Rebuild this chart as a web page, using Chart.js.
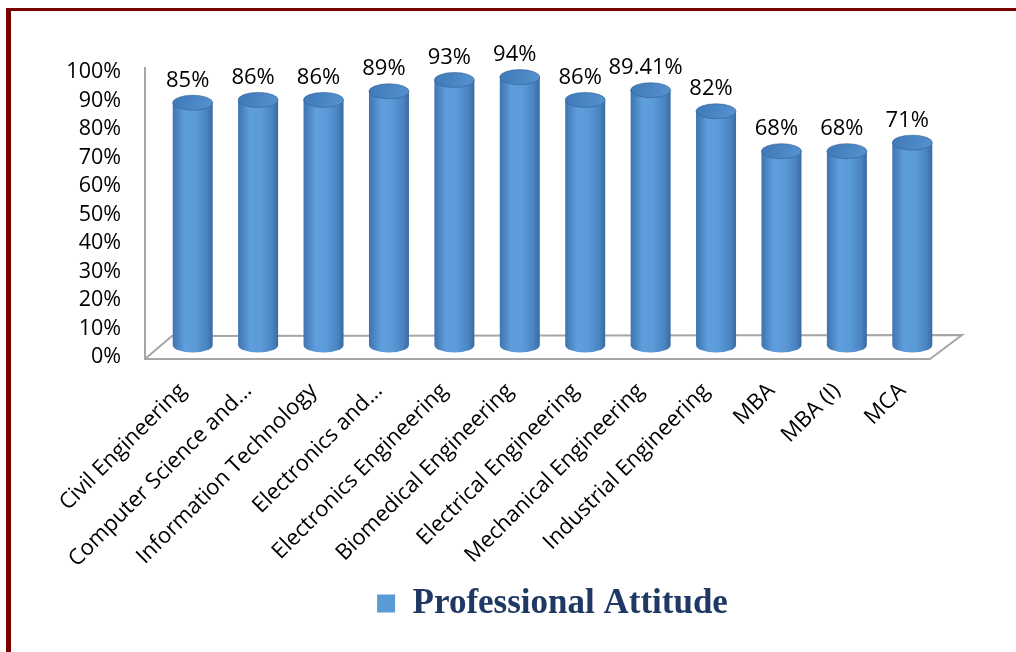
<!DOCTYPE html>
<html>
<head>
<meta charset="utf-8">
<script src="https://cdn.jsdelivr.net/npm/chart.js@4.4.1/dist/chart.umd.min.js"></script>
<style>
  html, body { margin: 0; padding: 0; background: #ffffff; }
  #wrap { position: relative; width: 1016px; height: 652px; overflow: hidden; }
  #frame { position: absolute; left: 6px; top: 8px; right: -10px; bottom: -10px;
           border-left: 5px solid #780000; border-top: 3px solid #780000; pointer-events: none; }
  canvas { position: absolute; left: 0; top: 0; }
</style>
</head>
<body>
<div id="wrap">
  <canvas id="c" width="1016" height="652"></canvas>
  <div id="frame"></div>
</div>
<script>
const categories = [
  "Civil Engineering",
  "Computer Science and...",
  "Information Technology",
  "Electronics and...",
  "Electronics Engineering",
  "Biomedical Engineering",
  "Electrical Engineering",
  "Mechanical Engineering",
  "Industrial Engineering",
  "MBA",
  "MBA (I)",
  "MCA"
];
const seriesName = "Professional Attitude";
const values = [85, 86, 86, 89, 93, 94, 86, 89.41, 82, 68, 68, 71];
const yTicks = [0, 10, 20, 30, 40, 50, 60, 70, 80, 90, 100];

const FONT = "'Open Sans', 'DejaVu Sans', sans-serif";
const GREY = '#a6a6a6';

const cylinderPlugin = {
  id: 'cylinders',
  beforeDatasetsDraw(chart) {
    const { ctx, chartArea, scales } = chart;
    const y0 = scales.y.getPixelForValue(0);
    const y100 = scales.y.getPixelForValue(100);
    const L = chartArea.left, R = chartArea.right;
    ctx.save();
    ctx.strokeStyle = GREY;
    ctx.lineWidth = 2;
    ctx.beginPath();
    ctx.moveTo(L - 15, y100 + 7);
    ctx.lineTo(L - 15, y0 + 14);
    ctx.lineTo(R - 15, y0 + 14);
    ctx.lineTo(R + 17, y0 - 10);
    ctx.lineTo(L + 12, y0 - 9);
    ctx.lineTo(L - 15, y0 + 14);
    ctx.stroke();
    ctx.restore();
  },
  afterDatasetsDraw(chart) {
    const { ctx } = chart;
    const meta = chart.getDatasetMeta(0);
    const ds = chart.data.datasets[0];
    meta.data.forEach((el, i) => {
      const x = el.x, top = el.y, base = el.base;
      const rx = el.width / 2, ry = 7.5;
      ctx.save();
      const g = ctx.createLinearGradient(x - rx, 0, x + rx, 0);
      g.addColorStop(0, '#3e74b0');
      g.addColorStop(0.3, '#5f9edc');
      g.addColorStop(0.55, '#5c9bd9');
      g.addColorStop(0.85, '#4a84c2');
      g.addColorStop(1, '#3a6aa0');
      ctx.fillStyle = g;
      ctx.beginPath();
      ctx.moveTo(x - rx, top);
      ctx.lineTo(x - rx, base);
      ctx.ellipse(x, base, rx, ry, 0, Math.PI, 0, true);
      ctx.lineTo(x + rx, top);
      ctx.closePath();
      ctx.fill();
      const g2 = ctx.createLinearGradient(x - rx, top - ry, x + rx, top + ry);
      g2.addColorStop(0, '#3f78b6');
      g2.addColorStop(0.6, '#4c88c6');
      g2.addColorStop(1, '#5893cf');
      ctx.fillStyle = g2;
      ctx.beginPath();
      ctx.ellipse(x, top, rx, ry, 0, 0, Math.PI * 2);
      ctx.fill();
      ctx.strokeStyle = 'rgba(50,95,150,0.6)';
      ctx.lineWidth = 1;
      ctx.stroke();
      ctx.fillStyle = '#000';
      ctx.font = "22px " + FONT;
      ctx.textAlign = 'center';
      ctx.textBaseline = 'alphabetic';
      ctx.fillText(ds.data[i] + '%', x - 5, top - 16);
      ctx.restore();
    });
  }
};

new Chart(document.getElementById('c'), {
  type: 'bar',
  data: {
    labels: categories,
    datasets: [{
      label: seriesName,
      data: values,
      backgroundColor: 'rgba(0,0,0,0)',
      borderWidth: 0,
      barThickness: 40
    }]
  },
  options: {
    responsive: false,
    animation: false,
    events: [],
    layout: { padding: { top: 60, right: 71, left: 0, bottom: 21 } },
    scales: {
      x: {
        grid: { display: false },
        border: { display: false },
        ticks: {
          color: '#000',
          font: { family: FONT, size: 22 },
          maxRotation: 45, minRotation: 45,
          padding: 25,
          labelOffset: -10,
          autoSkip: false
        },
        afterFit(scale) { scale.height = 231; }
      },
      y: {
        min: 0, max: 100,
        afterBuildTicks(scale) { scale.ticks = yTicks.map(v => ({ value: v })); },
        grid: { display: false, drawTicks: false },
        border: { display: false },
        ticks: {
          color: '#000',
          font: { family: FONT, size: 21.5 },
          padding: 39,
          labelOffset: 12,
          autoSkip: false,
          callback: v => v + '%'
        },
        afterFit(scale) { scale.width = 160; }
      }
    },
    plugins: {
      tooltip: { enabled: false },
      legend: {
        position: 'bottom',
        fullSize: false,
        labels: {
          boxWidth: 18,
          boxHeight: 18,
          padding: 10,
          color: '#1f3864',
          font: { family: "'Liberation Serif', 'Times New Roman', serif", size: 35, weight: 'bold' },
          generateLabels(chart) {
            const items = Chart.defaults.plugins.legend.labels.generateLabels(chart);
            items.forEach(it => { it.fillStyle = '#5b9bd5'; it.strokeStyle = '#5b9bd5'; it.lineWidth = 0; });
            return items;
          }
        }
      }
    }
  },
  plugins: [cylinderPlugin]
});
</script>
</body>
</html>
